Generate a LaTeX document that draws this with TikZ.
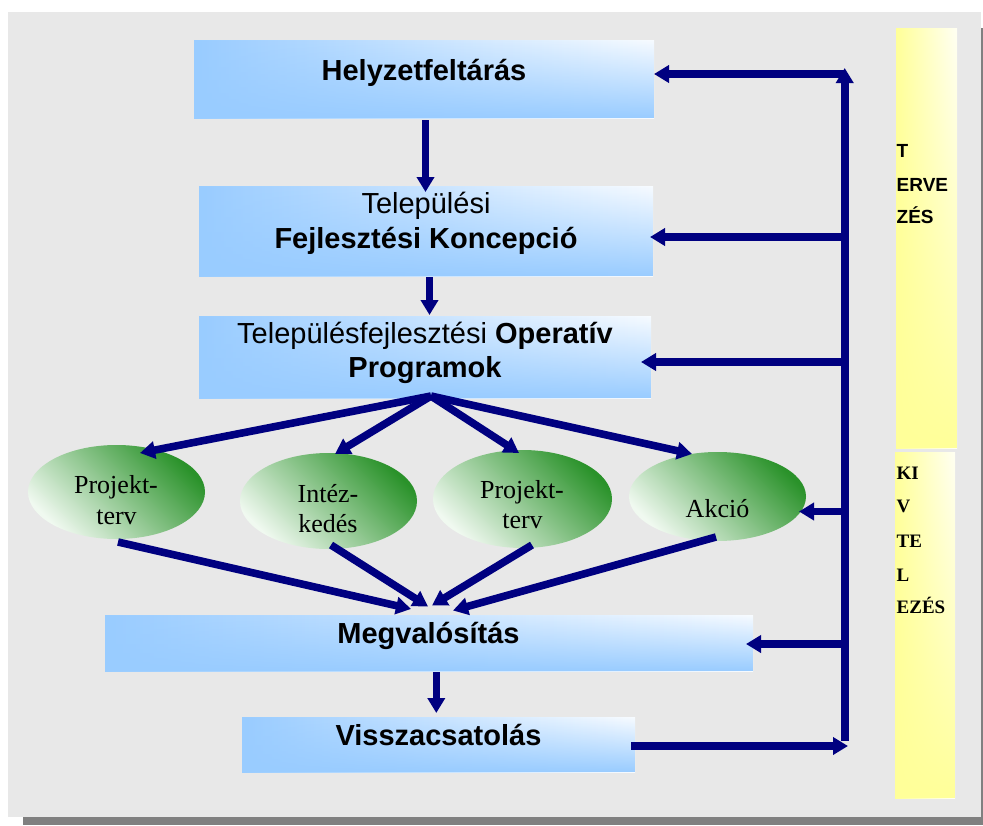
\documentclass[tikz,border=0pt]{standalone}
\usepackage{fontspec}
\setmainfont{Liberation Serif}
\newfontfamily\arialf{Liberation Sans}
\usetikzlibrary{arrows.meta,calc,fadings,shapes.geometric}
\definecolor{navy}{HTML}{000080}
\definecolor{panel}{HTML}{E8E8E8}
\definecolor{shadowgray}{HTML}{808080}
\definecolor{bxblue}{HTML}{99CCFF}
\definecolor{bxwhite}{HTML}{F7FBFF}
\definecolor{yel}{HTML}{FFFF99}
\definecolor{yelwhite}{HTML}{FFFFF4}
\definecolor{gdark}{HTML}{2A922A}
\definecolor{glight}{HTML}{F0F9F0}
\tikzfading[name=fadeup, top color=transparent!100, middle color=transparent!100, bottom color=transparent!0]
\begin{document}
\begin{tikzpicture}[x=1pt,y=-1pt,
  bluebox/.style={rectangle, inner sep=0pt, outer sep=0pt,
    preaction={left color=bxblue, right color=bxwhite},
    postaction={fill=bxblue, path fading=fadeup}},
  yelbox/.style={rectangle, inner sep=0pt, outer sep=0pt,
    preaction={left color=yel, right color=yelwhite},
    postaction={fill=yel, path fading=fadeup}},
  greenell/.style={ellipse, inner sep=0pt, outer sep=0pt,
    top color=gdark, bottom color=glight, shading angle=-45},
  txt/.style={inner sep=0pt, anchor=base},
  sansbig/.style={txt, font=\arialf\fontsize{29pt}{35pt}\selectfont},
  serifmid/.style={txt, font=\fontsize{26pt}{31pt}\selectfont},
  sidesans/.style={inner sep=0pt, anchor=base west, font=\arialf\bfseries\fontsize{19pt}{23pt}\selectfont},
  sideserif/.style={inner sep=0pt, anchor=base west, font=\bfseries\fontsize{19pt}{23pt}\selectfont},
  arr/.style={draw=navy, line width=7.6pt, -{Triangle[length=15pt,width=17pt]}},
  trunk/.style={draw=navy, line width=7.6pt}
]
\useasboundingbox (0,0) rectangle (983,825);
% panel with shadow
\fill[shadowgray] (23,28) rectangle (983,825);
\fill[panel] (8,12) rectangle (981,817);

% blue boxes
\node[bluebox, minimum width=460pt, minimum height=78pt] (b1) at (424,79) {};
\node[bluebox, minimum width=454pt, minimum height=90pt] (b2) at (426,231) {};
\node[bluebox, minimum width=452pt, minimum height=82pt] (b3) at (425,357) {};
\node[bluebox, minimum width=648pt, minimum height=56pt] (b4) at (429,643) {};
\node[bluebox, minimum width=393pt, minimum height=55pt] (b5) at (438.5,744.5) {};

\node[sansbig] (t1) at (424,80) {\bfseries Helyzetfeltárás};
\node[sansbig] (t2a) at (426,213) {Települési};
\node[sansbig] (t2b) at (426,248) {\bfseries Fejlesztési Koncepció};
\node[sansbig] (t3a) at (425,343) {Településfejlesztési \textbf{Operatív}};
\node[sansbig] (t3b) at (425,377) {\bfseries Programok};
\node[sansbig] (t4) at (428.5,643) {\bfseries Megvalósítás};
\node[sansbig] (t5) at (438.5,745) {\bfseries Visszacsatolás};

% ellipses
\node[greenell, minimum width=177pt, minimum height=94pt] (e1) at (116.5,492) {};
\node[greenell, minimum width=177pt, minimum height=96pt] (e2) at (328.5,501) {};
\node[greenell, minimum width=179pt, minimum height=98pt] (e3) at (522.5,499) {};
\node[greenell, minimum width=177pt, minimum height=89pt] (e4) at (717.5,496.5) {};

\node[serifmid] (e1a) at (116,493) {Projekt-};
\node[serifmid] (e1b) at (116.5,524) {terv};
\node[serifmid] (e2a) at (328,502) {Intéz-};
\node[serifmid] (e2b) at (328,532) {kedés};
\node[serifmid] (e3a) at (522,498) {Projekt-};
\node[serifmid] (e3b) at (522.5,528) {terv};
\node[serifmid] (e4a) at (717.5,517) {Akció};

% yellow side bars
\node[yelbox, minimum width=61pt, minimum height=420pt] (y1) at (926.5,238) {};
\node[yelbox, minimum width=60pt, minimum height=346pt] (y2) at (925,625) {};
\node[sidesans] (y1a) at (896.5,157) {T};
\node[sidesans] (y1b) at (896.5,191) {ERVE};
\node[sidesans] (y1c) at (896.5,223) {ZÉS};
\node[sideserif] (y2a) at (896.5,479) {KI};
\node[sideserif] (y2b) at (896.5,512) {V};
\node[sideserif] (y2c) at (896.5,547) {TE};
\node[sideserif] (y2d) at (896.5,581) {L};
\node[sideserif] (y2e) at (896.5,613) {EZÉS};

% vertical main flow
\draw[arr] ($(b1.south)+(1.5,2)$) -- ($(b2.north)+(-0.5,6)$);
\draw[arr] ($(b2.south)+(3.5,1)$) -- ($(b3.north)+(4.5,-1)$);
\draw[arr] ($(b4.south)+(7.3,1)$) -- ($(b5.north)+(-2.2,-4)$);

% fan out
\coordinate (fan) at (431,396);
\draw[arr] (fan) -- ($(e1.center)+(23.5,-39)$);
\draw[arr] (fan) -- ($(e2.center)+(6.5,-47)$);
\draw[arr] (fan) -- ($(e3.center)+(-3.5,-46)$);
\draw[arr] (fan) -- ($(e4.center)+(-25.5,-42.5)$);

% converge
\draw[arr] ($(e1.center)+(1.5,50)$) -- ($(b4.center)+(-18,-34)$);
\draw[arr] ($(e2.center)+(2.5,44)$) -- ($(b4.center)+(-1,-36.5)$);
\draw[arr] ($(e3.center)+(9.5,46)$) -- ($(b4.center)+(3,-37.5)$);
\draw[arr] ($(e4.center)+(-1.5,40.5)$) -- ($(b4.center)+(24,-32.5)$);

% feedback loop
\coordinate (vb) at (844.7,741);
\coordinate (vt) at (844.7,68);
\coordinate (v1) at (844.7,74);
\coordinate (v2) at (844.7,237);
\coordinate (v3) at (844.7,362);
\coordinate (v4) at (844.7,511.5);
\coordinate (v5) at (844.7,644);
\coordinate (fb) at (848,746);
\draw[arr] (vb) -- (vt);
\draw[arr] (v1) -- (v1 -| b1.east);
\draw[arr] (v2) -- ($(v2 -| b2.east)+(-3,0)$);
\draw[arr] (v3) -- ($(v3 -| b3.east)+(-10,0)$);
\draw[arr] (v4) -- ($(v4 -| e4.east)+(-7,0)$);
\draw[arr] (v5) -- ($(v5 -| b4.east)+(-7,0)$);
\draw[arr] ($(b5.east)+(-4,1.5)$) -- (fb);
\end{tikzpicture}
\end{document}
